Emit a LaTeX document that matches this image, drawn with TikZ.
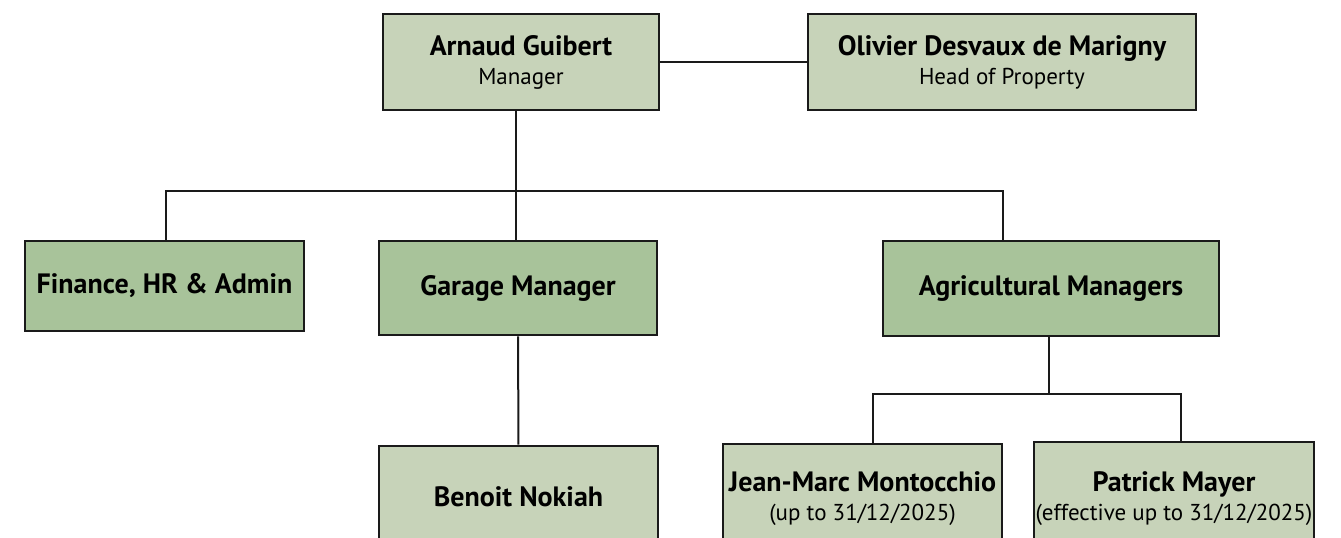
\documentclass[tikz,border=0pt]{standalone}
\usepackage{fontspec}
\setmainfont{PT Sans}
\usepackage{xcolor}
\usepackage{tikz}
\usetikzlibrary{positioning,calc}
\definecolor{boxlight}{HTML}{C7D3B9}
\definecolor{boxdark}{HTML}{A8C39A}
\definecolor{linegray}{HTML}{1A1A1A}
\newcommand{\namefont}{\fontsize{28}{29}\selectfont\bfseries}
\newcommand{\rolefont}{\fontsize{23}{27}\selectfont\mdseries}
\tikzset{
  PBox/.style={draw=linegray, line width=2.6pt, fill=boxlight, align=center,
               font=\namefont, minimum height=96pt, inner sep=1pt},
  DBox/.style={draw=linegray, line width=2.6pt, fill=boxdark, align=center,
               font=\namefont, minimum height=94pt, inner sep=1pt},
  Conn/.style={draw=linegray, line width=2pt}
}

\begin{document}
\begin{tikzpicture}[x=1pt,y=-1pt]
  \useasboundingbox (0,0) rectangle (1341,538);
  \clip (0,0) rectangle (1341,538);

  \node[PBox, minimum width=276pt] (arnaud) at (521,62)
    {Arnaud Guibert\\{\rolefont Manager}};
  \node[PBox, minimum width=388pt] (olivier) at (1002,62)
    {Olivier Desvaux de Marigny\\{\rolefont Head of Property}};

  \node[DBox, minimum width=279pt, minimum height=90pt] (finance) at (164.5,286) {Finance, HR \& Admin};
  \node[DBox, minimum width=278pt] (garage) at (518,288) {Garage Manager};
  \node[DBox, minimum width=336pt, minimum height=95pt] (agri) at (1051,288.5) {Agricultural Managers};

  \node[PBox, minimum width=279pt, minimum height=102pt] (benoit) at (518.5,497) {Benoit Nokiah};
  \node[PBox, minimum width=279pt, minimum height=110pt] (jean) at (862.5,499)
    {Jean-Marc Montocchio\\{\rolefont (up to 31/12/2025)}};
  \node[PBox, minimum width=280pt, minimum height=114pt] (patrick) at (1174,499)
    {Patrick Mayer\\{\rolefont (effective up to 31/12/2025)}};

  \coordinate (bus) at (516,191);
  \coordinate (agbus) at (1049,394);

  \draw[Conn] (arnaud.east) -- (olivier.west);
  \draw[Conn] (arnaud.south -| bus) -- (bus);
  \draw[Conn] ([xshift=1.5pt]finance.north) |- (bus) -| ([xshift=-48pt]agri.north);
  \draw[Conn] (bus) -- (garage.north -| bus);
  \draw[Conn] (garage) -- (benoit);
  \draw[Conn] (agri.south -| agbus) -- (agbus);
  \draw[Conn] ([xshift=10.5pt]jean.north) |- (agbus) -| ([xshift=7pt]patrick.north);
\end{tikzpicture}
\end{document}
